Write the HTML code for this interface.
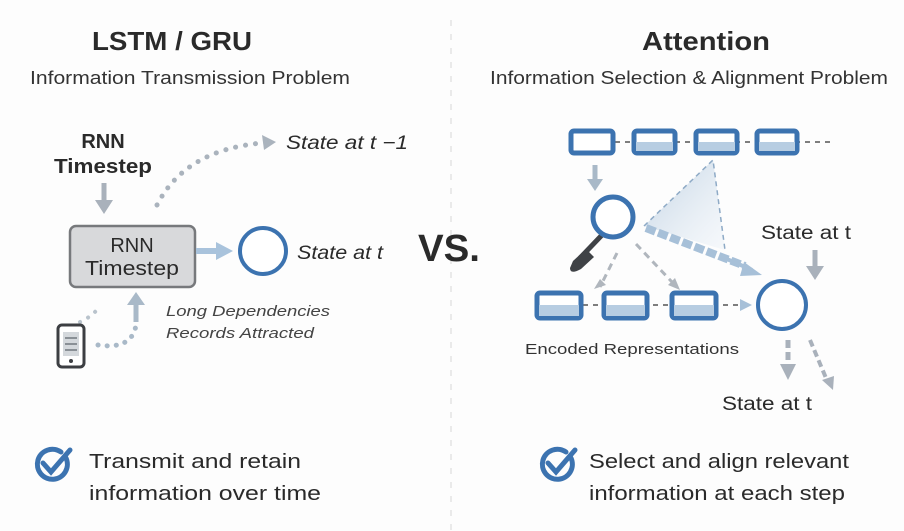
<!DOCTYPE html>
<html><head><meta charset="utf-8"><style>
html,body{margin:0;padding:0;background:#fdfdfd;}
svg{display:block;font-family:"Liberation Sans","DejaVu Sans",sans-serif;}
</style></head><body>
<svg width="904" height="531" viewBox="0 0 904 531" xmlns="http://www.w3.org/2000/svg">
<defs>
<linearGradient id="tri" x1="0" y1="0" x2="1" y2="1"><stop offset="0" stop-color="#b9cde0" stop-opacity="0.9"/><stop offset="1" stop-color="#e6eef6" stop-opacity="0.3"/></linearGradient>
</defs>
<rect width="904" height="531" fill="#fdfdfd"/>
<line x1="451" y1="20" x2="451" y2="531" stroke="#d6d6d6" stroke-width="1" stroke-dasharray="6,8"/>

<!-- headings -->
<text x="172" y="50" font-size="26" font-weight="bold" fill="#2a2a2a" text-anchor="middle" textLength="160" lengthAdjust="spacingAndGlyphs">LSTM / GRU</text>
<text x="190" y="84" font-size="18" fill="#333" text-anchor="middle" textLength="320" lengthAdjust="spacingAndGlyphs">Information Transmission Problem</text>
<text x="706" y="50" font-size="26" font-weight="bold" fill="#2a2a2a" text-anchor="middle" textLength="128" lengthAdjust="spacingAndGlyphs">Attention</text>
<text x="689" y="84" font-size="18" fill="#333" text-anchor="middle" textLength="398" lengthAdjust="spacingAndGlyphs">Information Selection &amp; Alignment Problem</text>

<!-- LEFT -->
<text x="103" y="148" font-size="20" font-weight="bold" fill="#2a2a2a" text-anchor="middle">RNN</text>
<text x="103" y="173" font-size="20" font-weight="bold" fill="#2a2a2a" text-anchor="middle" textLength="98" lengthAdjust="spacingAndGlyphs">Timestep</text>
<line x1="104" y1="183" x2="104" y2="202" stroke="#a9b1bb" stroke-width="5"/>
<polygon points="95,200 113,200 104,214" fill="#a9b1bb"/>
<path d="M157,205 Q185,150 262,143" fill="none" stroke="#aab3bd" stroke-width="5" stroke-linecap="round" stroke-dasharray="0.1,10"/>
<polygon points="262,135 276,142 264,150" fill="#aab3bd"/>
<text x="286" y="149" font-size="19" font-style="italic" fill="#2a2a2a" textLength="122" lengthAdjust="spacingAndGlyphs">State at t −1</text>

<rect x="70" y="226" width="125" height="61" rx="6" fill="#d8d9db" stroke="#77797c" stroke-width="2.5"/>
<text x="132" y="252" font-size="20" fill="#2a2a2a" text-anchor="middle">RNN</text>
<text x="132" y="275" font-size="20" fill="#2a2a2a" text-anchor="middle" textLength="94" lengthAdjust="spacingAndGlyphs">Timestep</text>
<line x1="196" y1="251" x2="220" y2="251" stroke="#a9c3dc" stroke-width="6"/>
<polygon points="216,242 233,251 216,260" fill="#a9c3dc"/>
<circle cx="263" cy="251" r="23" fill="#fff" stroke="#3c73b0" stroke-width="4"/>
<text x="297" y="259" font-size="19" font-style="italic" fill="#2a2a2a" textLength="86" lengthAdjust="spacingAndGlyphs">State at t</text>

<line x1="136" y1="322" x2="136" y2="305" stroke="#a9b9c8" stroke-width="5"/>
<polygon points="127,305 145,305 136,292" fill="#a9b9c8"/>
<path d="M98,345 Q132,350 136,325" fill="none" stroke="#a9b9c8" stroke-width="5" stroke-linecap="round" stroke-dasharray="0.1,9"/>
<path d="M80,322 Q95,315 100,305" fill="none" stroke="#b9c3cc" stroke-width="4" stroke-linecap="round" stroke-dasharray="0.1,9"/>
<rect x="58" y="325" width="26" height="42" rx="4" fill="#fff" stroke="#3c3e42" stroke-width="3"/>
<rect x="63" y="332" width="16" height="24" fill="#d4d8dc"/>
<line x1="65" y1="338" x2="77" y2="338" stroke="#8a9096" stroke-width="2"/>
<line x1="65" y1="344" x2="77" y2="344" stroke="#8a9096" stroke-width="2"/>
<line x1="65" y1="350" x2="77" y2="350" stroke="#8a9096" stroke-width="2"/>
<circle cx="71" cy="361" r="2" fill="#3c3e42"/>
<text x="166" y="316" font-size="15" font-style="italic" fill="#444" textLength="164" lengthAdjust="spacingAndGlyphs">Long Dependencies</text>
<text x="166" y="338" font-size="15" font-style="italic" fill="#444" textLength="148" lengthAdjust="spacingAndGlyphs">Records Attracted</text>

<text x="418" y="261" font-size="38" font-weight="bold" fill="#2a2a2a" textLength="62" lengthAdjust="spacingAndGlyphs">VS.</text>

<!-- RIGHT -->
<line x1="615" y1="142" x2="835" y2="142" stroke="#555" stroke-width="1.5" stroke-dasharray="5,5"/>
<g stroke="#3c73b0" stroke-width="5">
<rect x="571" y="131" width="42" height="22" rx="3" fill="#fff"/>
<rect x="634" y="131" width="41" height="22" rx="3" fill="#fff"/>
<rect x="696" y="131" width="41" height="22" rx="3" fill="#fff"/>
<rect x="757" y="131" width="40" height="22" rx="3" fill="#fff"/>
</g>
<rect x="636" y="142" width="37" height="9" fill="#b7cde2"/>
<rect x="698" y="142" width="37" height="9" fill="#b7cde2"/>
<rect x="759" y="142" width="36" height="9" fill="#b7cde2"/>

<polygon points="644,226 713,160 725,250" fill="url(#tri)"/>
<path d="M644,226 L713,160 L725,250" fill="none" stroke="#8eaac6" stroke-width="1.5" stroke-dasharray="5,4"/>
<line x1="646" y1="228" x2="745" y2="266" stroke="#a7c0d8" stroke-width="8" stroke-dasharray="10,3"/>
<line x1="720" y1="256" x2="752" y2="270" stroke="#a7c0d8" stroke-width="4"/>
<polygon points="744,262 762,275 740,276" fill="#a7c0d8"/>

<line x1="595" y1="165" x2="595" y2="180" stroke="#a9b9c8" stroke-width="5"/>
<polygon points="587,179 603,179 595,191" fill="#a9b9c8"/>
<line x1="602" y1="235" x2="580" y2="258" stroke="#3f4246" stroke-width="5"/>
<path d="M573,261 L586,249 L594,257 L581,269 Q570,275 570,268 Z" fill="#3f4246"/>
<circle cx="613" cy="217" r="20" fill="#fff" stroke="#3c73b0" stroke-width="5"/>

<path d="M617,253 L600,287" stroke="#b0b6bd" stroke-width="3" stroke-dasharray="7,5" fill="none"/>
<polygon points="594,289 600,279 606,285" fill="#b0b6bd"/>
<path d="M636,244 L672,282" stroke="#b0b6bd" stroke-width="3" stroke-dasharray="7,5" fill="none"/>
<polygon points="680,290 668,285 675,278" fill="#b0b6bd"/>

<line x1="583" y1="305" x2="740" y2="305" stroke="#555" stroke-width="1.5" stroke-dasharray="5,5"/>
<polygon points="740,299 752,305 740,311" fill="#a7c0d8"/>
<g stroke="#3c73b0" stroke-width="5">
<rect x="537" y="293" width="44" height="25" rx="3" fill="#fff"/>
<rect x="604" y="293" width="43" height="25" rx="3" fill="#fff"/>
<rect x="672" y="293" width="44" height="25" rx="3" fill="#fff"/>
</g>
<rect x="539" y="305" width="40" height="11" fill="#b7cde2"/>
<rect x="606" y="305" width="39" height="11" fill="#b7cde2"/>
<rect x="674" y="305" width="40" height="11" fill="#b7cde2"/>
<text x="525" y="354" font-size="15" fill="#333" textLength="214" lengthAdjust="spacingAndGlyphs">Encoded Representations</text>

<circle cx="782" cy="305" r="24" fill="#fff" stroke="#3c73b0" stroke-width="4"/>
<text x="761" y="239" font-size="19" fill="#2a2a2a" textLength="90" lengthAdjust="spacingAndGlyphs">State at t</text>
<line x1="815" y1="250" x2="815" y2="268" stroke="#a9b1bb" stroke-width="5"/>
<polygon points="806,266 824,266 815,280" fill="#a9b1bb"/>
<line x1="788" y1="340" x2="788" y2="366" stroke="#a9b1bb" stroke-width="5" stroke-dasharray="8,4"/>
<polygon points="780,364 796,364 788,380" fill="#a9b1bb"/>
<line x1="810" y1="340" x2="826" y2="378" stroke="#a9b1bb" stroke-width="4" stroke-dasharray="7,4"/>
<polygon points="822,380 834,376 833,390" fill="#a9b1bb"/>
<text x="722" y="410" font-size="19" fill="#2a2a2a" textLength="90" lengthAdjust="spacingAndGlyphs">State at t</text>

<!-- checks -->
<g fill="none" stroke="#3c73b0" stroke-width="5" stroke-linecap="round">
<path d="M66,458 A15,15 0 1 1 61,452"/>
<path d="M43,463 L51,472 L70,450"/>
<path d="M571,458 A15,15 0 1 1 566,452"/>
<path d="M548,463 L556,472 L575,450"/>
</g>
<text x="89" y="468" font-size="20" fill="#2a2a2a" textLength="212" lengthAdjust="spacingAndGlyphs">Transmit and retain</text>
<text x="89" y="500" font-size="20" fill="#2a2a2a" textLength="232" lengthAdjust="spacingAndGlyphs">information over time</text>
<text x="589" y="468" font-size="20" fill="#2a2a2a" textLength="260" lengthAdjust="spacingAndGlyphs">Select and align relevant</text>
<text x="589" y="500" font-size="20" fill="#2a2a2a" textLength="256" lengthAdjust="spacingAndGlyphs">information at each step</text>
</svg>
</body></html>
